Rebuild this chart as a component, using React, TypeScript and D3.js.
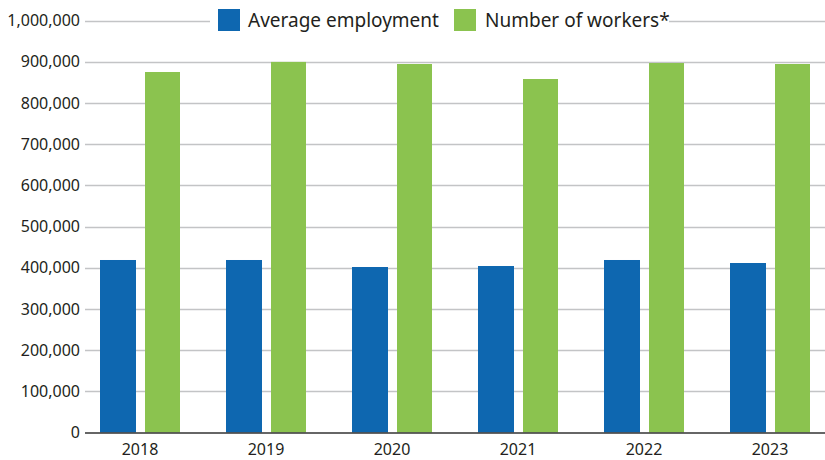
import React from "react";
import * as d3 from "d3";

const years = ["2018", "2019", "2020", "2021", "2022", "2023"];
const averageEmployment = [418700, 418700, 401700, 404100, 418700, 411400];
const numberOfWorkers = [875000, 899500, 894400, 858000, 896800, 894400];
const seriesNames = ["Average employment", "Number of workers*"];
const yTicks = [0, 100000, 200000, 300000, 400000, 500000, 600000, 700000, 800000, 900000, 1000000];

const W = 825;
const H = 460;
const FONT = "'Noto Sans', sans-serif";
const TEXT = "#231f20";
const COLORS = ["#0e67b0", "#8bc34f"];

export default function App() {
  const x0 = d3.scaleBand<string>().domain(years).range([77, 833]).padding(0);
  const x1 = d3.scaleBand<string>().domain(seriesNames).range([-40, 41]).paddingInner(0.2);
  const y = d3.scaleLinear().domain([0, 1000000]).range([432.5, 20.5]);
  const fmt = d3.format(",");
  const data = [averageEmployment, numberOfWorkers];
  const gridLeft = 85;
  const gridRight = 825;

  return (
    <svg width={W} height={H} style={{ position: "absolute", left: 0, top: 0, background: "#fff" }} fontFamily={FONT}>
      {yTicks.map((t) => (
        <g key={t}>
          {t > 0 && (
            <line x1={gridLeft} x2={gridRight} y1={Math.round(y(t)) + 0.5} y2={Math.round(y(t)) + 0.5} stroke="#c3c4c6" strokeWidth={1.3} />
          )}
          <text x={80} y={y(t)} dy="0.36em" textAnchor="end" fontSize={16} fill={TEXT}>
            {fmt(t)}
          </text>
        </g>
      ))}
      {years.map((yr, i) => (
        <g key={yr} transform={`translate(${x0(yr)! + x0.bandwidth() / 2},0)`}>
          {seriesNames.map((s, j) => (
            <rect
              key={s}
              x={x1(s)!}
              width={x1.bandwidth() - (j === 1 ? 1 : 0)}
              y={y(data[j][i])}
              height={y(0) - y(data[j][i])}
              fill={COLORS[j]}
            />
          ))}
          <text x={0} y={455} textAnchor="middle" fontSize={16} fill={TEXT}>
            {yr}
          </text>
        </g>
      ))}
      <line x1={gridLeft} x2={gridRight} y1={433} y2={433} stroke="#333" strokeWidth={1.5} />
      <rect x={210} y={5} width={459} height={30} fill="#fff" />
      <rect x={218} y={9} width={22} height={22} fill={COLORS[0]} />
      <text x={248} y={27} fontSize={19} fill={TEXT}>
        {seriesNames[0]}
      </text>
      <rect x={454} y={9} width={22} height={22} fill={COLORS[1]} />
      <text x={485} y={27} fontSize={19} fill={TEXT}>
        {seriesNames[1]}
      </text>
    </svg>
  );
}
